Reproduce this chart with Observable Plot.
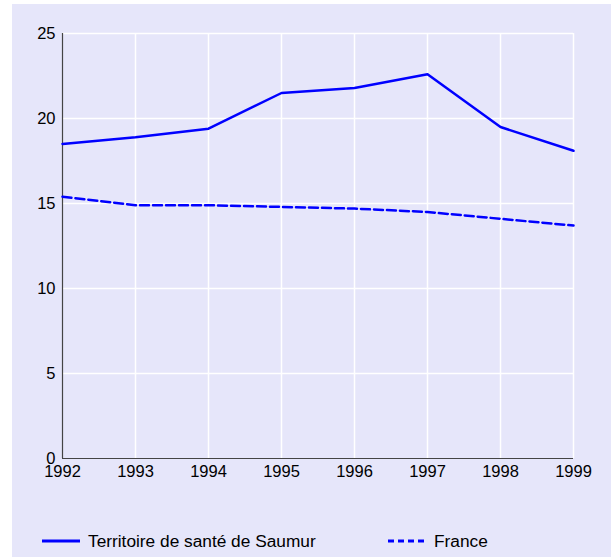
<!DOCTYPE html>
<html><head><meta charset="utf-8">
<script src="https://cdn.jsdelivr.net/npm/d3@7"></script>
<script src="https://cdn.jsdelivr.net/npm/@observablehq/plot@0.6"></script>
<style>
body{margin:0;background:#fff;font-family:"Liberation Sans",Arial,sans-serif;}
#outer{position:relative;width:611px;height:557px;background:#fff;overflow:hidden;}
#panel{position:absolute;left:12px;top:4px;width:599px;height:553px;background:#e6e6fa;}
#legend{position:absolute;left:0;top:520px;width:599px;height:36px;font-size:17.3px;color:#000;}
.item{position:absolute;top:6px;display:flex;align-items:center;height:22px;}
.item svg{margin-right:8px;}
</style></head>
<body>
<div id="outer"><div id="panel"><div id="chart"></div><div id="legend"></div></div></div>
<script>
const years = [1992, 1993, 1994, 1995, 1996, 1997, 1998, 1999];
const saumur = [18.5, 18.9, 19.4, 21.5, 21.8, 22.6, 19.5, 18.1];
const france = [15.4, 14.9, 14.9, 14.8, 14.7, 14.5, 14.1, 13.7];
const yTicks = [0, 5, 10, 15, 20, 25];
const seriesNames = ["Territoire de santé de Saumur", "France"];

const dS = years.map((y, i) => ({year: y, v: saumur[i]}));
const dF = years.map((y, i) => ({year: y, v: france[i]}));

const chart = Plot.plot({
  width: 599, height: 490,
  marginLeft: 50, marginTop: 29, marginRight: 38, marginBottom: 36,
  style: {background: "transparent", fontFamily: "Liberation Sans, Arial, sans-serif", fontSize: "16.5px", color: "#000"},
  x: {domain: [1992, 1999], ticks: years, tickFormat: d => String(d), tickSize: 0, tickPadding: 7, label: null},
  y: {domain: [0, 25], ticks: yTicks, tickSize: 0, tickPadding: 7, label: null},
  marks: [
    Plot.ruleX(years.slice(1), {stroke: "#fff", strokeWidth: 1.5, strokeOpacity: 1}),
    Plot.ruleY(yTicks.slice(1), {stroke: "#fff", strokeWidth: 1.5, strokeOpacity: 1}),
    Plot.axisX({ticks: years, tickFormat: d => String(d), tickSize: 0, tickPadding: 7, fontSize: 16.5, label: null}),
    Plot.axisY({ticks: yTicks, tickSize: 0, tickPadding: 7, fontSize: 16.5, label: null}),
    Plot.ruleX([1992], {stroke: "#444", strokeWidth: 1.2}),
    Plot.ruleY([0], {stroke: "#444", strokeWidth: 1.2}),
    Plot.line(dS, {x: "year", y: "v", stroke: "#0000ff", strokeWidth: 2.5}),
    Plot.line(dF, {x: "year", y: "v", stroke: "#0000ff", strokeWidth: 2.5, strokeDasharray: "9,4"})
  ]
});
document.getElementById("chart").appendChild(chart);

const legend = document.getElementById("legend");
const pos = [30, 376];
seriesNames.forEach((n, i) => {
  const it = document.createElement("div");
  it.className = "item";
  it.style.left = pos[i] + "px";
  const dash = i === 1 ? 'stroke-dasharray="6,4"' : '';
  it.innerHTML = `<svg width="38" height="6"><line x1="0" x2="38" y1="3" y2="3" stroke="#0000ff" stroke-width="3" ${dash}/></svg><span>${n}</span>`;
  legend.appendChild(it);
});
</script>
</body></html>
